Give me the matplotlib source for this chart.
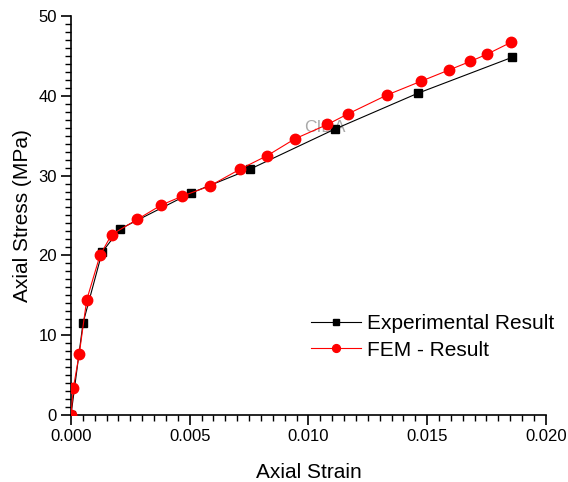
import matplotlib
matplotlib.use("Agg")
import matplotlib.pyplot as plt
from matplotlib.ticker import MultipleLocator

# Experimental data (strain, stress in MPa)
exp_strain = [0.0, 0.000505, 0.00131, 0.00206, 0.00505, 0.00754, 0.0111, 0.0146, 0.01857]
exp_stress = [0.0, 11.5, 20.4, 23.3, 27.8, 30.8, 35.8, 40.3, 44.8]

# FEM results
fem_strain = [0.0, 0.0001, 0.00035, 0.00066, 0.00122, 0.00171, 0.00279, 0.0038, 0.00467,
              0.00585, 0.00712, 0.00827, 0.00943, 0.0108, 0.01165, 0.01332, 0.01473,
              0.0159, 0.01682, 0.01752, 0.01854]
fem_stress = [0.0, 3.4, 7.7, 14.4, 20.0, 22.6, 24.5, 26.3, 27.4,
              28.7, 30.8, 32.5, 34.6, 36.4, 37.7, 40.1, 41.8,
              43.2, 44.3, 45.2, 46.7]

plt.rcParams['font.family'] = ['Liberation Sans', 'DejaVu Sans']

fig = plt.figure(figsize=(5.68, 4.82), dpi=100)
ax = fig.add_axes([0.125, 0.139, 0.836, 0.828])

ax.plot(exp_strain, exp_stress, color='black', lw=0.8, marker='s', ms=6,
        label='Experimental Result', zorder=3)
ax.plot(fem_strain, fem_stress, color='red', lw=0.8, marker='o', ms=7.5,
        label='FEM - Result', zorder=4)

ax.set_xlim(0, 0.020)
ax.set_ylim(0, 50)
ax.xaxis.set_major_locator(MultipleLocator(0.005))
ax.xaxis.set_minor_locator(MultipleLocator(0.0005))
ax.yaxis.set_major_locator(MultipleLocator(10))
ax.yaxis.set_minor_locator(MultipleLocator(1))
ax.xaxis.set_major_formatter(plt.FormatStrFormatter('%.3f'))

for side in ['top', 'right']:
    ax.spines[side].set_visible(False)
for side in ['left', 'bottom']:
    ax.spines[side].set_linewidth(1.2)
ax.tick_params(which='major', direction='out', length=7, width=1.2, labelsize=12, pad=3)
ax.tick_params(which='minor', direction='out', length=4, width=1)

ax.set_xlabel('Axial Strain', fontsize=15, labelpad=14)
ax.set_ylabel('Axial Stress (MPa)', fontsize=15, labelpad=5)

# faint watermark behind the curves
ax.text(0.0107, 36.0, 'CIDA', color='#aaaaaa', fontsize=12.5, ha='center', va='center', zorder=2)

ax.legend(loc='lower right', bbox_to_anchor=(1.057, 0.092), frameon=False, fontsize=15,
          handlelength=2.4, handletextpad=0.3, labelspacing=0.35, markerscale=0.75)

fig.savefig('out.png', dpi=100)
